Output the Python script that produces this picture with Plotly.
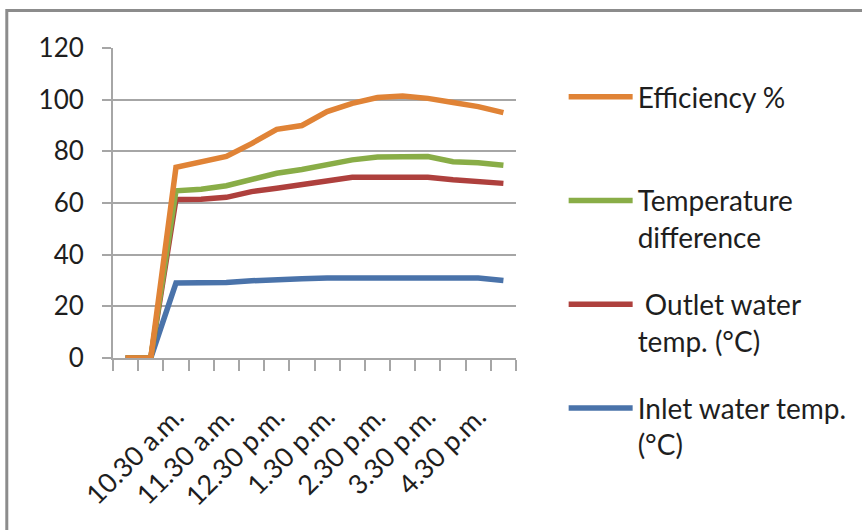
import plotly.graph_objects as go

# 30-minute readings (index 1..16)
times = ["9.30 a.m.", "10.00 a.m.", "10.30 a.m.", "11.00 a.m.", "11.30 a.m.", "12.00 p.m.",
         "12.30 p.m.", "1.00 p.m.", "1.30 p.m.", "2.00 p.m.", "2.30 p.m.", "3.00 p.m.",
         "3.30 p.m.", "4.00 p.m.", "4.30 p.m.", "5.00 p.m."]
tick_labels = ["10.30 a.m.", "11.30 a.m.", "12.30 p.m.", "1.30 p.m.", "2.30 p.m.", "3.30 p.m.", "4.30 p.m."]

inlet = [0, 0, 29.0, 29.0, 29.2, 29.9, 30.5, 30.7, 31.0, 31.0, 31.0, 31.0, 31.0, 31.0, 31.0, 30.0]
outlet = [0, 0, 61.4, 61.5, 62.2, 64.4, 65.7, 67.0, 68.3, 70.0, 70.0, 70.0, 70.0, 69.0, 68.3, 67.6]
temp_diff = [0, 0, 64.7, 65.3, 66.7, 69.0, 71.5, 73.0, 75.0, 76.7, 77.8, 78.0, 78.0, 76.0, 75.6, 74.6]
efficiency = [0, 0, 73.8, 76.0, 78.0, 83.0, 88.5, 90.0, 95.4, 98.6, 100.8, 101.4, 100.5, 98.9, 97.3, 95.0]

names = ["Inlet water temp.<br>(°C)", " Outlet water<br>temp. (°C)", "Temperature<br>difference", "Efficiency %<br> "]
colors = ["#4A73AA", "#AE403D", "#89AD47", "#E08336"]
ranks = [4, 3, 2, 1]
series = [inlet, outlet, temp_diff, efficiency]

x = list(range(1, len(times) + 1))
FONT = "Lato"
FS_LEG = 28
FS_XTICK = 27
FS_YTICK = 26
TXT = "#1E1E1E"
AX = "#A6A6A6"

fig = go.Figure()
for i, (nm, col, ys, rk) in enumerate(zip(names, colors, series, ranks)):
    fig.add_trace(go.Scatter(x=x, y=ys, mode="lines", name=nm, legendrank=rk,
                             line=dict(color=col, width=5.5), legendgroup=str(i),
                             hovertext=times))

label_pos = [times.index(t) + 1 for t in tick_labels]
boundaries = [v - 0.5 for v in x] + [x[-1] + 0.5]

# plot region spans pixels y 48..358 inside a 500px-tall grid area (t=10, b=20)
H_GRID = 500.0
def py(p):
    return (510.0 - p) / H_GRID

def px(p):
    return (p - 113.0) / 406.0

fig.update_layout(
    template="none",
    width=862, height=530,
    margin=dict(l=113, r=343, t=10, b=20),
    paper_bgcolor="white", plot_bgcolor="white",
    font=dict(family=FONT, size=FS_LEG, color=TXT),
    showlegend=True,
    legend=dict(x=px(567), xanchor="left", y=py(72), yanchor="top",
                traceorder="grouped", tracegroupgap=28,
                valign="top", itemwidth=64,
                font=dict(family=FONT, size=FS_LEG, color=TXT),
                bgcolor="rgba(0,0,0,0)", borderwidth=0),
    xaxis=dict(range=[0.5, len(x) + 0.5], tickmode="array", tickvals=label_pos,
               ticktext=tick_labels, tickangle=-45, ticks="", showgrid=False,
               showline=True, linecolor=AX, linewidth=2, zeroline=False,
               ticklabelstandoff=30, automargin=False,
               minor=dict(tickmode="array", tickvals=boundaries, ticks="outside",
                          ticklen=11, tickcolor=AX, tickwidth=2, showgrid=False),
               tickfont=dict(family=FONT, size=FS_XTICK, color=TXT)),
    yaxis=dict(range=[0, 120], domain=[py(358), py(48)],
               tickmode="array", tickvals=[0, 20, 40, 60, 80, 100, 120],
               showgrid=True, gridcolor=AX, gridwidth=2, zeroline=False,
               showline=True, linecolor=AX, linewidth=2,
               ticks="outside", ticklen=9, tickcolor=AX, tickwidth=2,
               ticklabelstandoff=13, automargin=False,
               tickfont=dict(family=FONT, size=FS_YTICK, color=TXT)),
    shapes=[dict(type="rect", xref="paper", yref="paper",
                 x0=px(6), x1=px(880), y0=py(560), y1=py(10.5),
                 line=dict(color="#8C8C8C", width=3), fillcolor="rgba(0,0,0,0)", layer="below")],
)

fig.write_html("out.html")
